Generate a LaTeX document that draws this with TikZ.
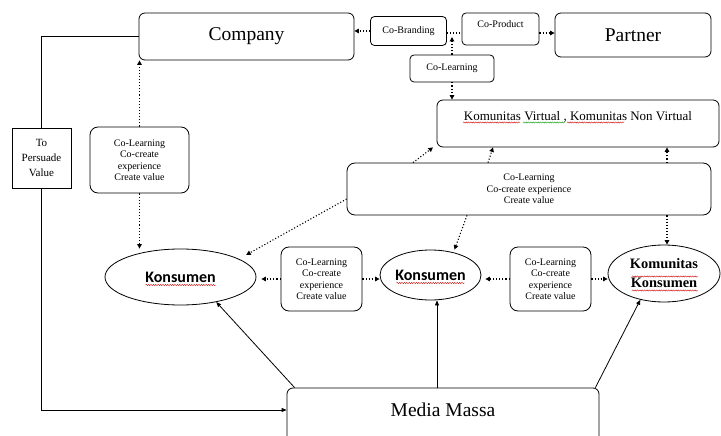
\documentclass[tikz,border=0pt]{standalone}
\usepackage{fontspec}
\setmainfont{Liberation Serif}
\newfontfamily\calibfont{Carlito}
\usetikzlibrary{shapes.geometric,arrows.meta,decorations.pathmorphing}

\begin{document}
\begin{tikzpicture}[x=1pt,y=-1pt,
	box/.style={draw,rounded corners=6pt,line width=0.8pt,align=center,inner sep=1pt},
	oval/.style={draw,ellipse,line width=0.8pt,align=center,inner sep=0pt},
	small/.style={font=\fontsize{10}{11.5}\selectfont},
	big/.style={font=\fontsize{19.5}{22}\selectfont},
	kons/.style={font=\calibfont\bfseries\fontsize{16}{18}\selectfont},
	dotarrow/.style={dotted,line width=1.1pt,-{Triangle[length=4.5pt,width=4.5pt]}},
	dotline/.style={dotted,line width=1.1pt},
	plainarrow/.style={line width=0.8pt,-{Triangle[length=5pt,width=4pt]}},
	spell/.style={red!80!black,line width=0.4pt,decorate,decoration={snake,amplitude=0.6pt,segment length=2.4pt}}]
	\useasboundingbox (0,0) rectangle (721,436);
	\clip (0,0) rectangle (721,436);

	% top row
	\node[box,big,minimum width=215pt,minimum height=47pt] (company) at (246.5,36.5) {Company};
	\node[box,small,rounded corners=4pt,minimum width=76pt,minimum height=29pt] (cobrand) at (408.5,31) {Co-Branding};
	\node[box,small,rounded corners=4pt,minimum width=77pt,minimum height=32pt,text depth=9pt] (coprod) at (500.5,29) {Co-Product};
	\node[box,big,minimum width=156pt,minimum height=44pt] (partner) at (633,35) {Partner};
	\node[box,small,rounded corners=4pt,minimum width=84pt,minimum height=27pt] (colearn) at (452,68.5) {Co-Learning};

	% communities and shared box
	\node[box,font=\fontsize{13}{15}\selectfont,minimum width=282pt,minimum height=47pt,text depth=16pt] (komunitas) at (578,123.5) {Komunitas Virtual , Komunitas Non Virtual};
	\node[box,small,rounded corners=8pt,minimum width=364pt,minimum height=52pt] (bigbox) at (529,189) {Co-Learning\\Co-create experience\\Create value};
	\node[box,small,rounded corners=8pt,minimum width=99pt,minimum height=66pt] (leftbox) at (139.5,160) {Co-Learning\\Co-create\\experience\\Create value};
	\node[draw,line width=0.8pt,align=center,font=\fontsize{11}{15}\selectfont,minimum width=59pt,minimum height=60pt] (persuade) at (41.5,158) {To\\Persuade\\Value};

	% consumers
	\node[oval,kons,minimum width=151pt,minimum height=56pt] (kons1) at (180.5,277) {Konsumen};
	\node[oval,kons,minimum width=101pt,minimum height=50pt] (kons2) at (430.5,275) {Konsumen};
	\node[oval,font=\bfseries\fontsize{14.4}{19}\selectfont,minimum width=112pt,minimum height=57pt] (komkons) at (664,273.5) {Komunitas\\Konsumen};
	\node[box,small,rounded corners=8pt,minimum width=81pt,minimum height=64pt] (mid1) at (321.5,279) {Co-Learning\\Co-create\\experience\\Create value};
	\node[box,small,rounded corners=8pt,minimum width=81pt,minimum height=64pt] (mid2) at (550.5,279) {Co-Learning\\Co-create\\experience\\Create value};
	\node[box,big,minimum width=312pt,minimum height=54pt,text depth=10pt] (media) at (443,415) {Media Massa};

	% spelling marks
	\draw[spell] ([xshift=-35pt,yshift=-8pt]kons1.center) -- ++(70,0);
	\draw[spell] ([xshift=-34pt,yshift=-8pt]kons2.center) -- ++(68,0);
	\draw[spell] ([xshift=-32pt,yshift=-3pt]komkons.center) -- ++(66,0);
	\draw[spell] ([xshift=-32pt,yshift=-17pt]komkons.center) -- ++(66,0);
	\draw[spell] ([xshift=-115pt,yshift=1pt]komunitas.center) -- ++(57,0);
	\draw[spell,green!60!black] ([xshift=-55pt,yshift=1pt]komunitas.center) -- ++(42,0);
	\draw[spell] ([xshift=-11pt,yshift=1pt]komunitas.center) -- ++(57,0);

	% dotted links
	\coordinate (jn) at (452,33);
	\draw[dotarrow] (cobrand.west) -- (cobrand.west -| company.east);
	\draw[dotarrow] ([yshift=-4pt]coprod.east) -- ([yshift=-4pt]coprod.east -| partner.west);
	\draw[dotline] (cobrand.east |- jn) -- (coprod.west |- jn);
	\draw[dotarrow] (colearn.north) -- ([yshift=-4pt]jn);
	\draw[dotarrow] (colearn.south) -- (colearn.south |- komunitas.north);
	\draw[dotarrow] ([xshift=-116pt]bigbox.north) -- ([xshift=-145pt]komunitas.south);
	\draw[dotarrow] ([xshift=-41pt]bigbox.north) -- ([xshift=-85pt]komunitas.south);
	\draw[dotarrow] ([xshift=138pt]bigbox.north) -- ([xshift=89pt]komunitas.south);
	\draw[dotarrow] ([yshift=-10pt]bigbox.west) -- ([xshift=12pt,yshift=2pt]kons1.north east);
	\draw[dotarrow] ([xshift=-62pt]bigbox.south) -- ([xshift=24pt]kons2.north);
	\draw[dotarrow] ([xshift=138pt]bigbox.south) -- ([xshift=138pt]bigbox.south |- komkons.north);
	\draw[dotarrow] (leftbox.north) -- (leftbox.north |- company.south);
	\draw[dotarrow] (leftbox.south) -- (leftbox.south |- kons1.north);
	\draw[dotarrow,shorten >=5pt] (mid1.west) -- (mid1.west -| kons1.east);
	\draw[dotarrow] (mid1.east) -- (mid1.east -| kons2.west);
	\draw[dotarrow,shorten >=4pt] (mid2.west) -- (mid2.west -| kons2.east);
	\draw[dotarrow] (mid2.east) -- (mid2.east -| komkons.west);

	% mass media links
	\draw[plainarrow] ([xshift=8pt]media.north west) -- (kons1.-35);
	\draw[plainarrow] ([xshift=-6pt]media.north) -- ([xshift=-6pt]media.north |- kons2.south);
	\draw[plainarrow] ([xshift=-4pt]media.north east) -- (komkons.-132);
	\draw[line width=0.8pt] (company.west) -| (persuade.north);
	\draw[plainarrow] (persuade.south) |- ([yshift=5pt]media.west);
\end{tikzpicture}
\end{document}
